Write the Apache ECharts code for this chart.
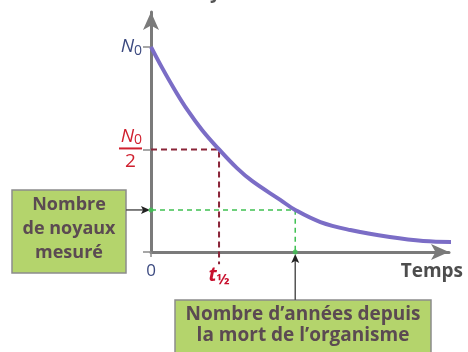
<!DOCTYPE html>
<html>
<head>
<meta charset="utf-8">
<script src="https://cdn.jsdelivr.net/npm/echarts@6/dist/echarts.min.js"></script>
<style>
  html, body { margin: 0; padding: 0; background: #fff; }
  #main { width: 468px; height: 352px; }
</style>
</head>
<body>
<div id="main"></div>
<script>
// temps en demi-vies, noyaux en fraction de N0
var times = [0, 0.16, 0.35, 0.54, 0.75, 1, 1.26, 1.49, 1.9, 2.12, 2.49, 2.93, 3.51, 4.0, 4.54];
var nuclei = [1, 0.9, 0.79, 0.69, 0.595, 0.5, 0.41, 0.345, 0.254, 0.205, 0.146, 0.107, 0.073, 0.054, 0.049];
var halfLife = 1;
var halfValue = 0.5;
var measuredN = 0.205;
var measuredT = 2.12;
var yTickValues = [0, 0.5, 1];
var xTickValues = [0, 1];

var FONT = "Open Sans";
var chart = echarts.init(document.getElementById("main"));

var curve = times.map(function (t, i) { return [t, nuclei[i]]; });

chart.setOption({
    animation: false,
    grid: { left: 151, right: 19, top: 12, bottom: 100 },
    xAxis: {
        type: "value", min: 0, max: 4.38,
        axisLine: { lineStyle: { color: "#7a7a7a", width: 3 }, symbol: ["none", "arrow"], symbolSize: [12, 18] },
        axisTick: { customValues: [0], length: 5, lineStyle: { color: "#8a8a8a", width: 1.5 } },
        splitLine: { show: false },
        axisLabel: {
            customValues: xTickValues,
            margin: 11,
            formatter: function (v) {
                return v === 0 ? "{z|0}" : "{t|t}{ts|½}";
            },
            rich: {
                z: { fontFamily: FONT, fontSize: 17, color: "#3c4a80" },
                t: { fontFamily: FONT, fontSize: 20, fontStyle: "italic", fontWeight: "bold", color: "#c8102e" },
                ts: { fontFamily: FONT, fontSize: 15, fontWeight: "bold", color: "#c8102e", padding: [9, 0, 0, 0] }
            }
        }
    },
    yAxis: {
        type: "value", min: 0, max: 1.17,
        axisLine: { show: true, lineStyle: { color: "#7a7a7a", width: 3 }, symbol: ["none", "arrow"], symbolSize: [12, 18] },
        axisTick: { show: true, customValues: yTickValues, length: 8, lineStyle: { color: "#8a8a8a", width: 1.5 } },
        splitLine: { show: false },
        axisLabel: {
            customValues: [0.5, 1],
            margin: 9,
            formatter: function (v) {
                return v === 1 ? "{n|N}{s|0}" : "{rn|N}{rs|0}\n{bar|}\n{rd|2}";
            },
            rich: {
                n: { fontFamily: FONT, fontSize: 19, fontStyle: "italic", color: "#3c4a80" },
                s: { fontFamily: FONT, fontSize: 14, color: "#3c4a80", padding: [8, 0, 0, 0] },
                rn: { fontFamily: FONT, fontSize: 19, fontStyle: "italic", color: "#d0202f", lineHeight: 20 },
                rs: { fontFamily: FONT, fontSize: 14, color: "#d0202f", padding: [8, 0, 0, 0], lineHeight: 20 },
                bar: { width: 23, height: 2, backgroundColor: "#d0202f", lineHeight: 4 },
                rd: { fontFamily: FONT, fontSize: 19, color: "#d0202f", lineHeight: 22, align: "center" }
            }
        }
    },
    series: [
        {
            type: "line", data: curve, smooth: 0.4, symbol: "none", clip: false,
            lineStyle: { color: "#7b6dc6", width: 4 }, z: 3
        },
        {
            type: "line", symbol: "none", clip: false,
            data: [[0, halfValue], [halfLife, halfValue], [halfLife, -0.06]],
            lineStyle: { color: "#8a2438", width: 2, type: [6, 4] }, z: 2
        },
        {
            type: "line", symbol: "none", clip: false,
            data: [[0, measuredN], [measuredT, measuredN], [measuredT, 0]],
            lineStyle: { color: "#3fc152", width: 1.5, type: [5, 4] }, z: 2
        },
        {
            type: "scatter", symbolSize: 5, clip: false,
            data: [[0, measuredN], [measuredT, 0]],
            itemStyle: { color: "#3fc152" }, z: 4
        }
    ]
});

var pN = chart.convertToPixel({ gridIndex: 0 }, [0, measuredN]);
var pT = chart.convertToPixel({ gridIndex: 0 }, [measuredT, 0]);

var boxText = { fontFamily: FONT, fontWeight: "bold", fill: "#5b4a52", align: "center" };

chart.setOption({
    graphic: [
        // titre coupé en haut
        { type: "text", left: "center", top: -17,
          style: { text: "Nombre de noyaux de carbone 14", fontFamily: FONT, fontWeight: "bold", fontSize: 19, fill: "#555" } },
        { type: "text", right: 5, top: 262,
          style: { text: "Temps", fontFamily: FONT, fontWeight: "bold", fontSize: 19, fill: "#4d4d4d" } },
        // boîte "Nombre de noyaux mesuré"
        { type: "rect", shape: { x: 12, y: 190, width: 114, height: 83 },
          style: { fill: "#b4d46c", stroke: "#8c8c8c", lineWidth: 1.5 } },
        { type: "text", x: 69, y: 193,
          style: Object.assign({ text: "Nombre\nde noyaux\nmesuré", fontSize: 18, lineHeight: 24 }, boxText) },
        { type: "line", shape: { x1: 126, y1: pN[1], x2: pN[0] - 4, y2: pN[1] },
          style: { stroke: "#555", lineWidth: 1.5 } },
        { type: "polygon", shape: { points: [[pN[0] - 1, pN[1]], [pN[0] - 10, pN[1] - 4], [pN[0] - 8, pN[1]], [pN[0] - 10, pN[1] + 4]] },
          style: { fill: "#222" } },
        // boîte "Nombre d'années..."
        { type: "rect", shape: { x: 175, y: 300, width: 256, height: 70 },
          style: { fill: "#b4d46c", stroke: "#8c8c8c", lineWidth: 1.5 } },
        { type: "text", x: 303, y: 304,
          style: Object.assign({ text: "Nombre d’années depuis\nla mort de l’organisme", fontSize: 19, lineHeight: 21 }, boxText) },
        { type: "line", shape: { x1: pT[0], y1: 300, x2: pT[0], y2: pT[1] + 6 },
          style: { stroke: "#555", lineWidth: 1.5 } },
        { type: "polygon", shape: { points: [[pT[0], pT[1] + 2], [pT[0] - 4, pT[1] + 11], [pT[0], pT[1] + 9], [pT[0] + 4, pT[1] + 11]] },
          style: { fill: "#222" } }
    ]
});
</script>
</body>
</html>
